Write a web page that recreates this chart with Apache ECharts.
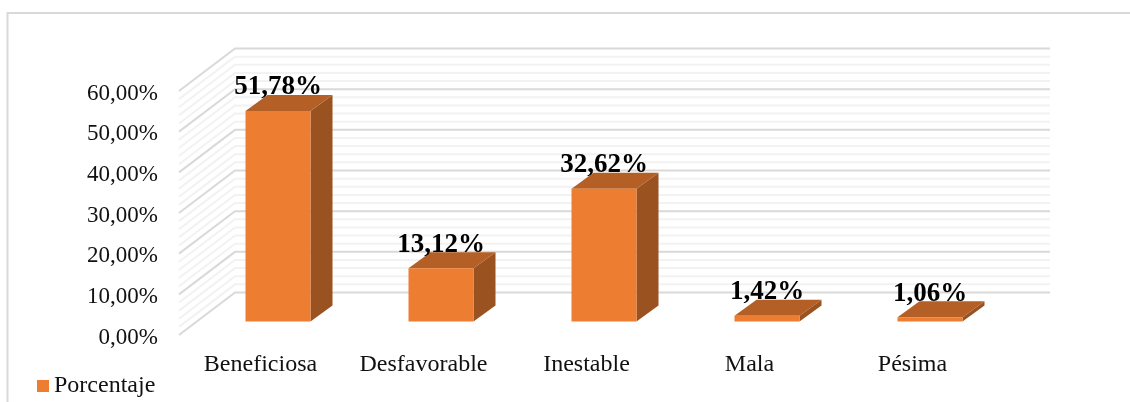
<!DOCTYPE html>
<html><head><meta charset="utf-8">
<style>html,body{margin:0;padding:0;background:#fff}#c{width:1130px;height:402px}</style>
<script src="https://cdn.jsdelivr.net/npm/echarts@6/dist/echarts.min.js"></script>
</head><body><div id="c"></div>
<script>
const categories = ['Beneficiosa','Desfavorable','Inestable','Mala','Pésima'];
const values = [51.78,13.12,32.62,1.42,1.06];
const labels = ['51,78%','13,12%','32,62%','1,42%','1,06%'];
const gridValues = [0,2,4,6,8,10,12,14,16,18,20,22,24,26,28,30,32,34,36,38,40,42,44,46,48,50,52,54,56,58,60];
const serif = '"Liberation Serif","Times New Roman",serif';
// oblique projection constants of the pseudo-3D look
const WALL_DX = 56, WALL_DY = -42.5;
const BAR_SHIFT_X = 17.5, BAR_SHIFT_Y = -13.5, BAR_W = 65, BAR_DX = 22, BAR_DY = -16;

const chart = echarts.init(document.getElementById('c'), null, {renderer:'canvas'});
chart.setOption({
  animation:false,
  backgroundColor:'#fff',
  grid:{left:179,width:815,top:91,height:244,containLabel:false},
  legend:{
    data:['Porcentaje'],left:32,top:369,itemWidth:12,itemHeight:12,itemGap:0,
    icon:'rect',textStyle:{fontFamily:serif,fontSize:24,color:'#111',padding:[0,0,0,0]}
  },
  xAxis:{type:'category',data:categories,boundaryGap:true,
    axisLine:{show:false},axisTick:{show:false},splitLine:{show:false},
    axisLabel:{fontFamily:serif,fontSize:24,color:'#111',margin:18,interval:0}},
  yAxis:{type:'value',min:0,max:60,interval:10,
    axisLine:{show:false},axisTick:{show:false},splitLine:{show:false},
    axisLabel:{fontFamily:serif,fontSize:23,color:'#111',margin:21,verticalAlign:'top',lineHeight:5,
      formatter:v=>v.toFixed(2).replace('.',',')+'%'}},
  graphic:[{type:'polyline',silent:true,z:-1,shape:{points:[[7.5,402],[7.5,13],[1130,13]]},
    style:{fill:'none',stroke:'#d9d9d9',lineWidth:2}}],
  series:[
    {type:'custom',name:'walls',silent:true,z:1,data:gridValues.map(v=>[v]),
     encode:{y:0},
     renderItem(params,api){
       const v=api.value(0), cs=params.coordSys, y=api.coord([0,v])[1];
       const major=v%10===0;
       return {type:'polyline',shape:{points:[[cs.x,y],[cs.x+WALL_DX,y+WALL_DY],[cs.x+cs.width+WALL_DX,y+WALL_DY]]},
         style:{fill:'none',stroke:major?'#d9d9d9':'#f2f2f2',lineWidth:2}, z2:major?2:1};
     }},
    {type:'custom',name:'Porcentaje',silent:true,z:3,
     itemStyle:{color:'#ED7D31'},
     data:values.map((v,i)=>[i,v]),encode:{x:0,y:1},
     renderItem(params,api){
       const i=api.value(0), v=api.value(1);
       const top=api.coord([i,v]), base=api.coord([i,0]);
       const x0=top[0]+BAR_SHIFT_X-BAR_W/2, x1=x0+BAR_W;
       const yt=top[1]+BAR_SHIFT_Y, yb=base[1]+BAR_SHIFT_Y;
       return {type:'group',children:[
         {type:'polygon',shape:{points:[[x1,yt],[x1+BAR_DX,yt+BAR_DY],[x1+BAR_DX,yb+BAR_DY],[x1,yb]]},style:{fill:'#9A5320'}},
         {type:'polygon',shape:{points:[[x0,yt],[x0+BAR_DX,yt+BAR_DY],[x1+BAR_DX,yt+BAR_DY],[x1,yt]]},style:{fill:'#B35F25'}},
         {type:'rect',shape:{x:x0,y:yt,width:BAR_W,height:yb-yt},style:{fill:'#ED7D31'}},
         {type:'text',z2:10,style:{text:labels[i],x:x0+BAR_W/2,y:yt+BAR_DY+6,
           align:'center',verticalAlign:'bottom',fill:'#000',
           font:'bold 27px '+serif}}
       ]};
     }}
  ]
});
</script></body></html>
